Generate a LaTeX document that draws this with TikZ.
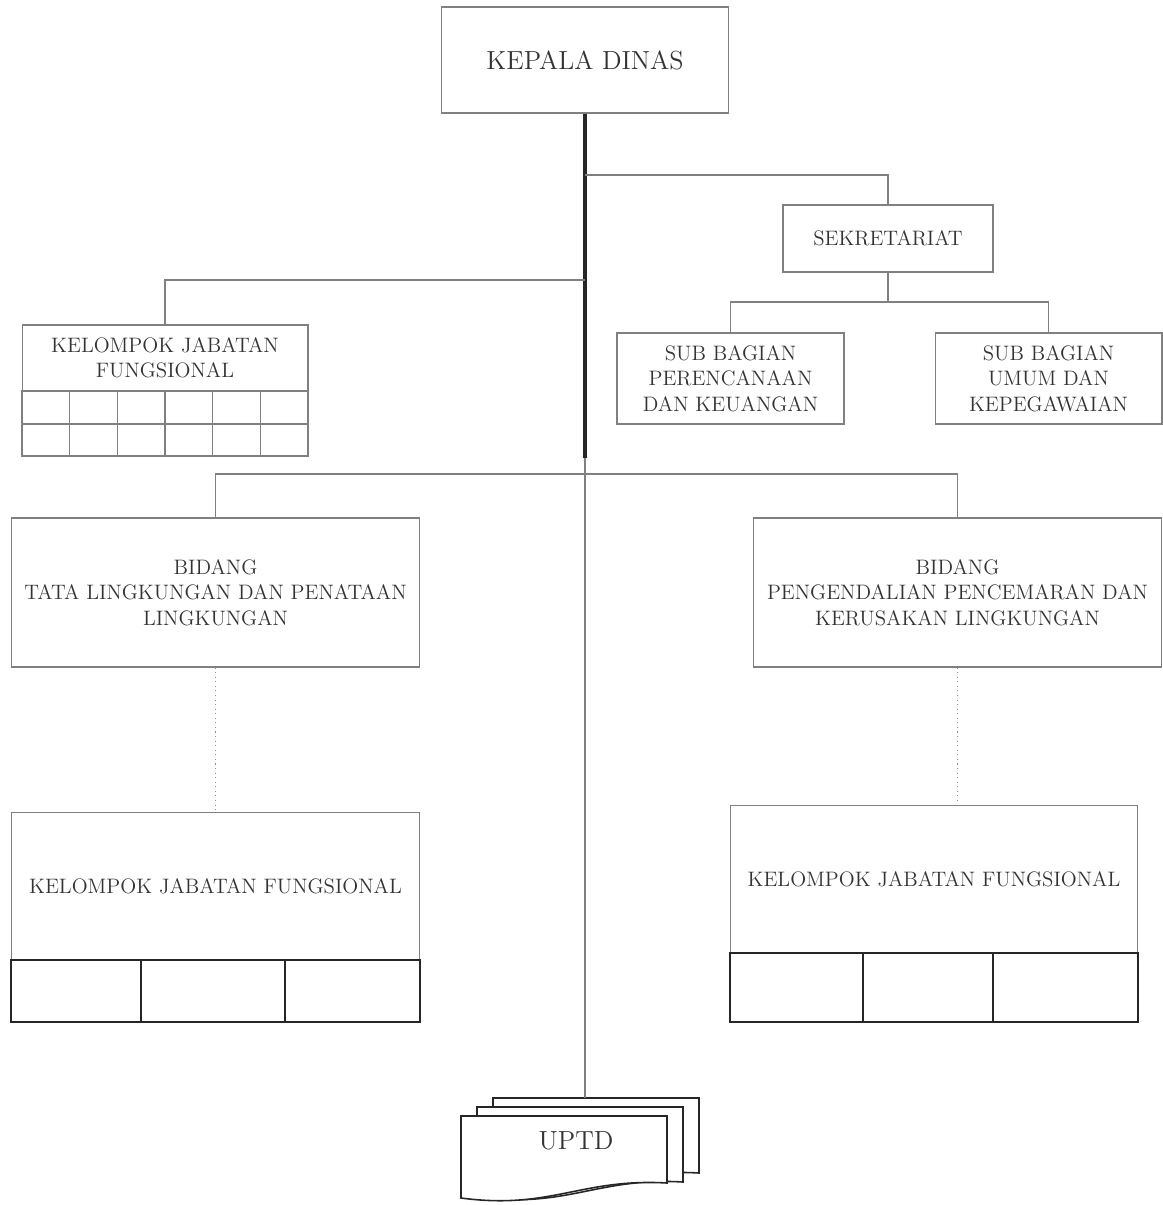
\documentclass[tikz,border=0pt]{standalone}
\usepackage{fontspec}

\begin{document}
\begin{tikzpicture}[x=0.02cm,y=-0.02cm,
  every node/.style={font=\fontsize{11.9}{14.4}\selectfont, text=black!80, align=center},
  unit/.style={draw=black!50, line width=0.6pt, inner sep=2pt},
  big/.style={font=\fontsize{14.9}{17}\selectfont},
  link/.style={draw=black!50, line width=0.6pt},
  trunk/.style={draw=black!85, line width=2.1pt},
  dotlink/.style={draw=black!45, line width=0.6pt, dotted},
  cell/.style={draw=black!85, line width=1.1pt},
  thincell/.style={draw=black!50, line width=0.6pt},
  page/.style={draw=black!85, line width=0.9pt, fill=white}]
\useasboundingbox (0,0) rectangle (1163,1205);

\node[unit, big, minimum width=5.74cm, minimum height=2.12cm] (kadis) at (585,60) {KEPALA DINAS};
\node[unit, minimum width=4.2cm, minimum height=1.34cm] (sekre) at (888,238.5) {SEKRETARIAT};
\node[unit, minimum width=4.54cm, minimum height=1.82cm] (subren) at (730.5,378.5) {SUB BAGIAN\\PERENCANAAN\\DAN KEUANGAN};
\node[unit, minimum width=4.54cm, minimum height=1.82cm] (subum) at (1048.5,378.5) {SUB BAGIAN\\UMUM DAN\\KEPEGAWAIAN};
\node[unit, minimum width=5.72cm, minimum height=1.32cm] (kjf) at (165,358) {KELOMPOK JABATAN\\FUNGSIONAL};
\node[unit, minimum width=8.18cm, minimum height=2.98cm] (bidtl) at (215.5,592.5) {BIDANG\\TATA LINGKUNGAN DAN PENATAAN\\LINGKUNGAN};
\node[unit, minimum width=8.18cm, minimum height=2.98cm] (bidpp) at (957.5,592.5) {BIDANG\\PENGENDALIAN PENCEMARAN DAN\\KERUSAKAN LINGKUNGAN};
\node[unit, minimum width=8.18cm, minimum height=2.96cm] (kjfa) at (215.5,886) {KELOMPOK JABATAN FUNGSIONAL};
\node[unit, minimum width=8.16cm, minimum height=2.96cm] (kjfb) at (934,879) {KELOMPOK JABATAN FUNGSIONAL};

\draw[thincell] (22,391) rectangle (308,456);
\draw[thincell] (22,424) -- (308,424);
\foreach \i in {1,...,5}
  \draw[thincell] ({22+\i*47.67},391) -- ({22+\i*47.67},456);
\draw[cell] (11,960) rectangle (420,1022);
\foreach \x in {141,285}
  \draw[cell] (\x,960) -- (\x,1022);
\draw[cell] (730,953) rectangle (1138,1022);
\foreach \x in {863,993}
  \draw[cell] (\x,953) -- (\x,1022);

\foreach \dx/\dy/\h in {32/-18/75, 16/-9/75, 0/0/67}
  \draw[page] (461+\dx,1116+\dy) -- ++(206,0) -- ++(0,\h)
    .. controls ++(-86,-5) and ++(90,12) .. ++(-206,15) -- cycle;
\node[big] (uptd) at (576,1141) {UPTD};

\coordinate (trunkend) at (585,458);
\coordinate (uptdtop) at (585,1098);
\coordinate (jsek) at (585,175);
\coordinate (jkjf) at (585,280);
\coordinate (jsub) at (888,302);
\coordinate (jbid) at (585,474);

\draw[trunk] (kadis) -- (trunkend);
\draw[link] (trunkend) -- (uptdtop);
\draw[link] (jsek) -| (sekre);
\draw[link] (jkjf) -| (kjf);
\draw[link] (sekre) -- (jsub);
\draw[link] (subren) |- (jsub) -| (subum);
\draw[link] (bidtl) |- (jbid) -| (bidpp);
\draw[dotlink] (bidtl) -- (kjfa);
\draw[dotlink] (bidpp.south) -- (bidpp.south |- kjfb.north);
\end{tikzpicture}
\end{document}
